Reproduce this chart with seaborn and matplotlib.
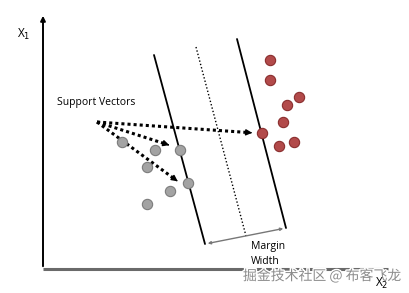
import matplotlib
matplotlib.use("Agg")
import matplotlib.pyplot as plt
import matplotlib.patheffects as pe
import numpy as np
import pandas as pd
import seaborn as sns

# ---- data (coordinates relative to the axis origin, y up) ----
gray_x = [79, 112, 137, 104, 145, 127, 104]
gray_y = [127, 119, 119, 102, 86, 78, 65]
red_x = [227, 227, 256, 244, 240, 219, 236, 251]
red_y = [209, 189, 172, 164, 147, 136, 123, 127]

left_margin_x = [111, 162]
left_margin_y = [214, 25]
hyperplane_x = [153, 203]
hyperplane_y = [222, 33]
right_margin_x = [194, 243]
right_margin_y = [230, 41]
margin_width_x = [162, 243]
margin_width_y = [25, 41]

arrow_origin = (54, 147)
arrow_targets_x = [212, 129, 137]
arrow_targets_y = [136, 123, 86]

sns.set_theme(style="white")
plt.rcParams['font.family'] = ['Open Sans', 'DejaVu Sans']

fig = plt.figure(figsize=(4.10, 2.93), dpi=100)
ax = fig.add_axes([0, 0, 1, 1])
ax.set_xlim(-43, 367)
ax.set_ylim(-24, 269)
ax.axis('off')

# axes with arrows
ax.annotate('', xy=(0, 256), xytext=(0, 0),
            arrowprops=dict(arrowstyle='-|>', color='black', lw=1.4, mutation_scale=7))
ax.plot([0, 345], [0, 0], color='#6a6a6a', lw=2.2, solid_capstyle='butt')

# margins and hyperplane
ax.plot(left_margin_x, left_margin_y, color='black', lw=1.3)
ax.plot(right_margin_x, right_margin_y, color='black', lw=1.3)
ax.plot(hyperplane_x, hyperplane_y, color='black', lw=1.0, linestyle=(0, (1, 1.5)))
ax.annotate('', xy=(margin_width_x[1], margin_width_y[1]),
            xytext=(margin_width_x[0], margin_width_y[0]),
            arrowprops=dict(arrowstyle='<|-|>', color='#777777', lw=1.0, mutation_scale=4))

# points
df_gray = pd.DataFrame({'x': gray_x, 'y': gray_y})
df_red = pd.DataFrame({'x': red_x, 'y': red_y})
sns.scatterplot(data=df_gray, x='x', y='y', ax=ax, s=55, color='#a3a3a3',
                edgecolor='#7c7c7c', linewidth=0.8, zorder=5)
sns.scatterplot(data=df_red, x='x', y='y', ax=ax, s=55, color='#b24a4a',
                edgecolor='#8a2e2e', linewidth=0.8, zorder=5)
ax.set_xlim(-43, 367)
ax.set_ylim(-24, 269)
ax.axis('off')

# support vector arrows (dotted)
ox, oy = arrow_origin
for tx, ty in zip(arrow_targets_x, arrow_targets_y):
    d = np.hypot(tx - ox, ty - oy)
    ux, uy = (tx - ox) / d, (ty - oy) / d
    ex, ey = tx - ux * 7, ty - uy * 7
    ax.plot([ox, ex], [oy, ey], color='black', lw=2.2, linestyle=(0, (1, 1)), zorder=4)
    ax.annotate('', xy=(tx, ty), xytext=(ex, ey),
                arrowprops=dict(arrowstyle='-|>', color='black', lw=1, mutation_scale=9),
                zorder=4)

# texts
ax.text(14, 166, 'Support Vectors', fontsize=7.5, ha='left', va='center', color='black')
ax.text(208, 15, 'Margin\nWidth', fontsize=7.5, ha='left', va='center', color='black',
        linespacing=1.4)
ax.text(-19, 235, r'X$_1$', fontsize=8.5, ha='center', va='center', color='black')
ax.text(339, -14, r'X$_2$', fontsize=8.5, ha='center', va='center', color='black', zorder=7)

wm = ax.text(279, -7, '掘金技术社区 @ 布客飞龙', fontsize=10, ha='center', va='center',
             color='#8c8c8c', family=['Noto Sans CJK SC', 'DejaVu Sans'], zorder=6)
wm.set_path_effects([pe.withStroke(linewidth=2, foreground='white')])

fig.savefig('out.png', dpi=100)
